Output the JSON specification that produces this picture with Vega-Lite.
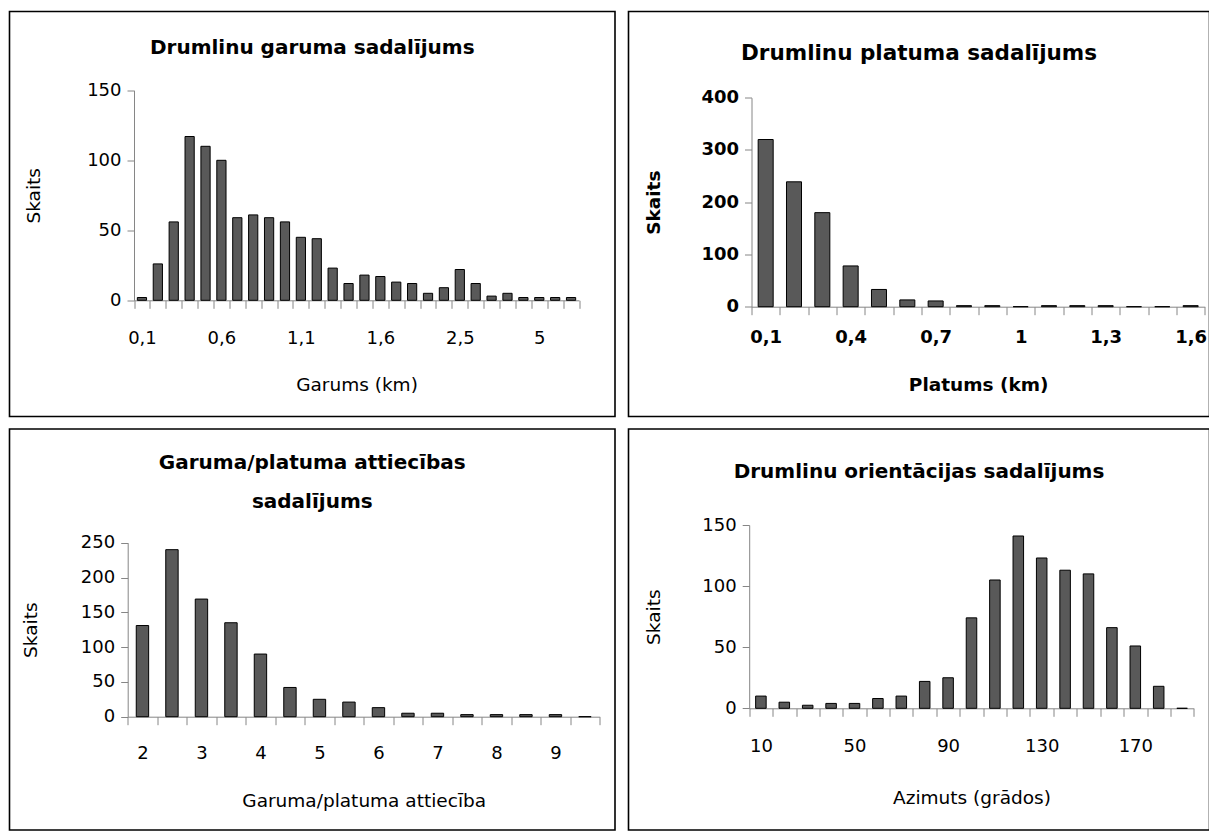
{
  "$schema": "https://vega.github.io/schema/vega-lite/v6.json",
  "padding": {"left": 8.5, "top": 10.5, "right": 0, "bottom": 0},
  "background": "white",
  "columns": 2,
  "spacing": {"row": 12.5, "column": 13},
  "bounds": "flush",
  "config": {
    "font": "DejaVu Sans",
    "view": {"stroke": "#000000", "strokeWidth": 1.6, "fill": "white"},
    "axis": {"domainColor": "#868686", "tickColor": "#868686", "labelColor": "#000000", "titleColor": "#000000", "labelFontSize": 18, "titleFontSize": 18.5, "titleFontWeight": "normal", "grid": false, "domainWidth": 1, "tickWidth": 1},
    "axisX": {"tickSize": 8, "labelAngle": 0, "labelOverlap": false, "titleBaseline": "middle", "tickBand": "extent"},
    "axisY": {"tickSize": 7, "labelPadding": 6, "titleBaseline": "middle"},
    "title": {"fontSize": 20, "fontWeight": "bold", "anchor": "middle", "frame": "group", "color": "#000000", "baseline": "middle"},
    "bar": {"fill": "#595959", "stroke": "#000000", "strokeWidth": 1}
  },
  "concat": [
    {
      "width": 605.5,
      "height": 405,
      "title": {"text": "Drumlinu garuma sadalījums", "offset": -46.5},
      "data": {"values": [
        {"k": "0,1", "v": 2}, {"k": "0,2", "v": 26}, {"k": "0,3", "v": 56}, {"k": "0,4", "v": 117},
        {"k": "0,5", "v": 110}, {"k": "0,6", "v": 100}, {"k": "0,7", "v": 59}, {"k": "0,8", "v": 61},
        {"k": "0,9", "v": 59}, {"k": "1", "v": 56}, {"k": "1,1", "v": 45}, {"k": "1,2", "v": 44},
        {"k": "1,3", "v": 23}, {"k": "1,4", "v": 12}, {"k": "1,5", "v": 18}, {"k": "1,6", "v": 17},
        {"k": "1,7", "v": 13}, {"k": "1,8", "v": 12}, {"k": "1,9", "v": 5}, {"k": "2", "v": 9},
        {"k": "2,5", "v": 22}, {"k": "3", "v": 12}, {"k": "3,5", "v": 3}, {"k": "4", "v": 5},
        {"k": "4,5", "v": 2}, {"k": "5", "v": 2}, {"k": "5,5", "v": 2}, {"k": "6", "v": 2}
      ]},
      "mark": {"type": "bar", "width": {"band": 0.58}},
      "encoding": {
        "x": {"field": "k", "type": "ordinal", "sort": null,
          "scale": {"range": [124.5, 569.5], "paddingInner": 0, "paddingOuter": 0},
          "axis": {"title": "Garums (km)", "offset": -116.2, "labelPadding": 20.7, "titleY": 83.7,
            "labelExpr": "indexof(['0,1','0,6','1,1','1,6','2,5','5'], datum.value) >= 0 ? datum.value : ''"}},
        "y": {"field": "v", "type": "quantitative",
          "scale": {"domain": [0, 150], "range": [288.8, 78.8], "nice": false},
          "axis": {"title": "Skaits", "values": [0, 50, 100, 150], "offset": -124.5, "titleX": -101}}
      }
    },
    {
      "width": 581,
      "height": 405,
      "title": {"text": "Drumlinu platuma sadalījums", "offset": -53.25, "fontSize": 21.5},
      "data": {"values": [
        {"k": "0,1", "v": 320}, {"k": "0,2", "v": 239}, {"k": "0,3", "v": 180}, {"k": "0,4", "v": 78},
        {"k": "0,5", "v": 33}, {"k": "0,6", "v": 13}, {"k": "0,7", "v": 11}, {"k": "0,8", "v": 2},
        {"k": "0,9", "v": 2}, {"k": "1", "v": 0}, {"k": "1,1", "v": 2}, {"k": "1,2", "v": 2},
        {"k": "1,3", "v": 2}, {"k": "1,4", "v": 0}, {"k": "1,5", "v": 0}, {"k": "1,6", "v": 2}
      ]},
      "mark": {"type": "bar", "width": {"band": 0.53}},
      "encoding": {
        "x": {"field": "k", "type": "ordinal", "sort": null,
          "scale": {"range": [123, 576.3], "paddingInner": 0, "paddingOuter": 0},
          "axis": {"title": "Platums (km)", "offset": -109.8, "labelPadding": 13.3, "titleY": 77.3, "labelFontWeight": "bold", "titleFontWeight": "bold",
            "labelExpr": "indexof(['0,1','0,4','0,7','1','1,3','1,6'], datum.value) >= 0 ? datum.value : ''"}},
        "y": {"field": "v", "type": "quantitative",
          "scale": {"domain": [0, 400], "range": [295.2, 86.2], "nice": false},
          "axis": {"title": "Skaits", "values": [0, 100, 200, 300, 400], "offset": -123, "titleX": -98, "labelFontWeight": "bold", "titleFontWeight": "bold"}}
      }
    },
    {
      "width": 605.5,
      "height": 401,
      "title": {"text": ["Garuma/platuma attiecības", "sadalījums"], "offset": -82.5, "lineHeight": 39},
      "data": {"values": [
        {"k": "2", "v": 131}, {"k": "2,5", "v": 240}, {"k": "3", "v": 169}, {"k": "3,5", "v": 135},
        {"k": "4", "v": 90}, {"k": "4,5", "v": 42}, {"k": "5", "v": 25}, {"k": "5,5", "v": 21},
        {"k": "6", "v": 13}, {"k": "6,5", "v": 5}, {"k": "7", "v": 5}, {"k": "7,5", "v": 3},
        {"k": "8", "v": 3}, {"k": "8,5", "v": 3}, {"k": "9", "v": 3}, {"k": "9,5", "v": 0}
      ]},
      "mark": {"type": "bar", "width": {"band": 0.42}},
      "encoding": {
        "x": {"field": "k", "type": "ordinal", "sort": null,
          "scale": {"range": [118.2, 590.2], "paddingInner": 0, "paddingOuter": 0},
          "axis": {"title": "Garuma/platuma attiecība", "offset": -113.3, "labelPadding": 19.3, "titleY": 83.3,
            "labelExpr": "indexof(['2','3','4','5','6','7','8','9'], datum.value) >= 0 ? datum.value : ''"}},
        "y": {"field": "v", "type": "quantitative",
          "scale": {"domain": [0, 250], "range": [287.7, 113.7], "nice": false},
          "axis": {"title": "Skaits", "values": [0, 50, 100, 150, 200, 250], "offset": -118.2, "titleX": -97}}
      }
    },
    {
      "width": 581,
      "height": 401,
      "title": {"text": "Drumlinu orientācijas sadalījums", "offset": -53},
      "data": {"values": [
        {"k": "10", "v": 10}, {"k": "20", "v": 5}, {"k": "30", "v": 2.5}, {"k": "40", "v": 4},
        {"k": "50", "v": 4}, {"k": "60", "v": 8}, {"k": "70", "v": 10}, {"k": "80", "v": 22},
        {"k": "90", "v": 25}, {"k": "100", "v": 74}, {"k": "110", "v": 105}, {"k": "120", "v": 141},
        {"k": "130", "v": 123}, {"k": "140", "v": 113}, {"k": "150", "v": 110}, {"k": "160", "v": 66},
        {"k": "170", "v": 51}, {"k": "180", "v": 18}, {"k": "190", "v": 0}
      ]},
      "mark": {"type": "bar", "width": {"band": 0.45}},
      "encoding": {
        "x": {"field": "k", "type": "ordinal", "sort": null,
          "scale": {"range": [120.7, 565.3], "paddingInner": 0, "paddingOuter": 0},
          "axis": {"title": "Azimuts (grādos)", "offset": -121.7, "labelPadding": 20.7, "titleY": 88.7,
            "labelExpr": "indexof(['10','50','90','130','170'], datum.value) >= 0 ? datum.value : ''"}},
        "y": {"field": "v", "type": "quantitative",
          "scale": {"domain": [0, 150], "range": [279.3, 96], "nice": false},
          "axis": {"title": "Skaits", "values": [0, 50, 100, 150], "offset": -120.7, "titleX": -96}}
      }
    }
  ]
}
